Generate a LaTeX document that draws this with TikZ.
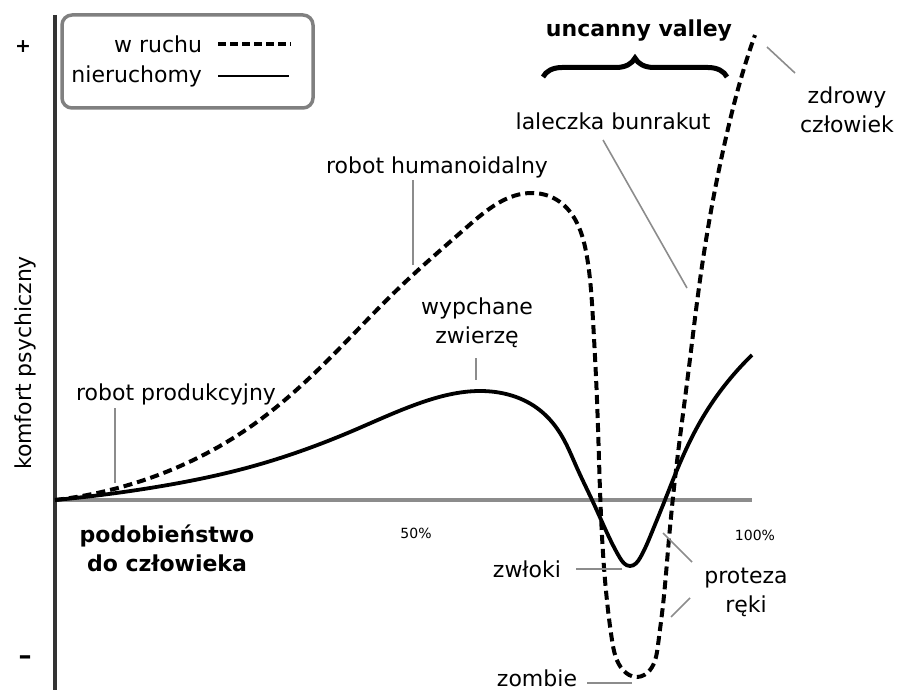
\documentclass[tikz,border=0pt]{standalone}
\usepackage{fontspec}
\setmainfont{DejaVu Sans}
\usetikzlibrary{decorations.pathreplacing,hobby}

\tikzset{every node/.style={inner sep=0pt,outer sep=0pt,font=\fontsize{22}{29}\selectfont},
  lbl/.style={anchor=base,align=center},
  lead/.style={draw=gray!90,line width=1.6pt},
  moving/.style={line width=4pt,dash pattern=on 9pt off 5pt},
  still/.style={line width=3.8pt}}

\begin{document}
\begin{tikzpicture}[x=1pt,y=-1pt]
\useasboundingbox (0,0) rectangle (898,693);
% axes
\draw[line width=4pt,black!80] (55,15) -- (55,690);
\draw[line width=4pt,gray!90] (55,500) -- (752,500);
\node[font=\fontsize{19}{19}\selectfont\bfseries] (plus) at (23,47) {+};
\node[font=\fontsize{26}{26}\selectfont\bfseries] (minus) at (25,660) {–};
\node[rotate=90,anchor=base] (yl) at (31,363) {komfort psychiczny};
\node[lbl,font=\fontsize{22}{29}\selectfont\bfseries] (xl) at (167,571) {podobieństwo\\do człowieka};
\node[lbl,font=\fontsize{14}{14}\selectfont] (p50) at (416,538) {50\%};
\node[lbl,font=\fontsize{14}{14}\selectfont] (p100) at (755,540) {100\%};
% legend
\draw[gray,line width=3.5pt,rounded corners=10pt] (62,15) rectangle (313,108);
\node[anchor=base east] (lm) at (202,53) {w ruchu};
\node[anchor=base east] (ls) at (202,83) {nieruchomy};
\coordinate (lm1) at (218,44); \coordinate (lm2) at (291,44);
\coordinate (ls1) at (218,76); \coordinate (ls2) at (289,76);
\draw[line width=4pt,dash pattern=on 8pt off 4pt] (lm1) -- (lm2);
\draw[line width=1.6pt] (ls1) -- (ls2);
% curves
\draw[moving] plot[hobby] coordinates{(55,500) (150,478) (250,427) (333,355) (400,287)
  (467,227) (533,193) (560,202) (577,223) (587,257) (593,320) (597,400) (600,490)
  (605,580) (612,640) (623,670) (637,677) (650,670) (658,645) (663,605) (668,550)
  (676,470) (688,375) (700,280) (713,200) (727,133) (742,75) (755,35)};
\draw[still] plot[hobby] coordinates{(55,500) (150,488) (250,467) (350,432) (420,403)
  (480,391) (537,408) (560,433) (577,468) (593,502) (608,535) (620,558) (630,566)
  (640,558) (652,532) (663,505) (677,470) (703,417) (725,385) (752,355)};
% uncanny valley
\node[lbl,font=\fontsize{22}{22}\selectfont\bfseries] (uv) at (639,37) {uncanny valley};
\coordinate (b1) at (543,77); \coordinate (b2) at (727,77);
\draw[line width=5pt,decorate,decoration={brace,amplitude=19pt}] (b1) -- (b2);
% labels
\node[lbl] (zdrowy) at (847,132) {zdrowy\\człowiek};
\coordinate (zd1) at (767,47); \coordinate (zd2) at (795,73);
\draw[lead] (zd1) -- (zd2);
\node[lbl] (bunraku) at (613,130) {laleczka bunrakut};
\coordinate (bu1) at (603,140); \coordinate (bu2) at (687,288);
\draw[lead] (bu1) -- (bu2);
\node[lbl] (humanoid) at (437,173) {robot humanoidalny};
\coordinate (hu1) at (413,180); \coordinate (hu2) at (413,265);
\draw[lead] (hu1) -- (hu2);
\node[lbl] (zwierze) at (477,343) {wypchane\\zwierzę};
\coordinate (zw1) at (476,358); \coordinate (zw2) at (476,380);
\draw[lead] (zw1) -- (zw2);
\node[lbl] (przem) at (176,400) {robot produkcyjny};
\coordinate (pr1) at (115,408); \coordinate (pr2) at (115,483);
\draw[lead] (pr1) -- (pr2);
\node[lbl] (zwloki) at (527,577) {zwłoki};
\coordinate (zl1) at (576,569); \coordinate (zl2) at (622,569);
\draw[lead] (zl1) -- (zl2);
\node[lbl] (proteza) at (746,612) {proteza\\ręki};
\coordinate (pa1) at (663,533); \coordinate (pa2) at (692,562);
\coordinate (pb1) at (690,598); \coordinate (pb2) at (671,617);
\draw[lead] (pa1) -- (pa2);
\draw[lead] (pb1) -- (pb2);
\node[lbl] (zombie) at (537,686) {zombie};
\coordinate (zo1) at (587,683); \coordinate (zo2) at (632,683);
\draw[lead] (zo1) -- (zo2);
\end{tikzpicture}
\end{document}
